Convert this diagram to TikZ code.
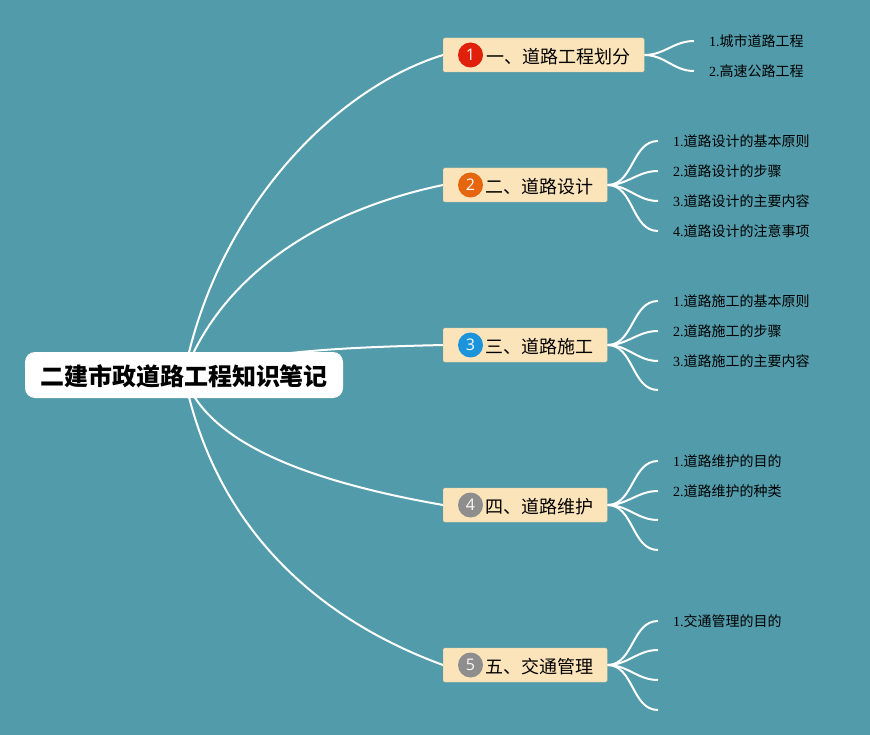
\documentclass[tikz,border=0pt]{standalone}
\usepackage{fontspec}
\setmainfont{Liberation Serif}
\setsansfont{Open Sans}
\newfontfamily\cjk{Noto Sans CJK SC}
\usetikzlibrary{backgrounds}
\definecolor{sea}{HTML}{529BAA}
\definecolor{sand}{HTML}{FBE3BA}
\definecolor{sandline}{HTML}{E8CFA0}
\definecolor{badgered}{HTML}{E0200B}
\definecolor{badgeorange}{HTML}{E6650F}
\definecolor{badgeblue}{HTML}{1C94DC}
\definecolor{badgegrey}{HTML}{8E8E8E}
\begin{document}
\begin{tikzpicture}[x=1pt,y=-1pt,
    root/.style={fill=white,rounded corners=10pt,minimum width=318pt,minimum height=46pt,inner sep=0pt,text height=21.5pt,text depth=1.5pt,font=\cjk\bfseries\fontsize{24}{28}\selectfont},
    branch/.style={anchor=west,fill=sand,draw=sandline,rounded corners=1.5pt,minimum height=34pt,inner xsep=14pt,inner ysep=0pt,text height=17pt,text depth=0.6pt,align=right,font=\cjk\fontsize{18}{22}\selectfont},
    badge/.style={circle,minimum size=25pt,inner sep=0pt,text=white!85!sand,font=\sffamily\fontsize{16}{18}\selectfont},
    leaf/.style={anchor=west,inner xsep=15pt,inner ysep=0pt,font=\cjk\fontsize{14}{17}\selectfont},
    wire/.style={draw=white,line width=2pt},
    twig/.style={draw=white,line width=2pt,out=0,in=180}]
          \node[root](root) at (184,375) {二建市政道路工程知识笔记};
          \node[branch,text width=173pt](b1) at (443,55)  {一、道路工程划分};
          \node[branch,text width=136pt](b2) at (443,185) {二、道路设计};
          \node[branch,text width=136pt](b3) at (443,345) {三、道路施工};
          \node[branch,text width=136pt](b4) at (443,505) {四、道路维护};
          \node[branch,text width=136pt](b5) at (443,665) {五、交通管理};
          \node[badge,fill=badgered]   (n1) at (470.5,55)  {1};
          \node[badge,fill=badgeorange](n2) at (470.5,185) {2};
          \node[badge,fill=badgeblue]  (n3) at (470.5,345) {3};
          \node[badge,fill=badgegrey]  (n4) at (470.5,505) {4};
          \node[badge,fill=badgegrey]  (n5) at (470.5,665) {5};
          \node[leaf](l11) at (694,41)  {{\rmfamily 1.}城市道路工程};
          \node[leaf](l12) at (694,71)  {{\rmfamily 2.}高速公路工程};
          \node[leaf](l21) at (658,141) {{\rmfamily 1.}道路设计的基本原则};
          \node[leaf](l22) at (658,171) {{\rmfamily 2.}道路设计的步骤};
          \node[leaf](l23) at (658,201) {{\rmfamily 3.}道路设计的主要内容};
          \node[leaf](l24) at (658,231) {{\rmfamily 4.}道路设计的注意事项};
          \node[leaf](l31) at (658,301) {{\rmfamily 1.}道路施工的基本原则};
          \node[leaf](l32) at (658,331) {{\rmfamily 2.}道路施工的步骤};
          \node[leaf](l33) at (658,361) {{\rmfamily 3.}道路施工的主要内容};
          \coordinate (l34) at (658,390);
          \node[leaf](l41) at (658,461) {{\rmfamily 1.}道路维护的目的};
          \node[leaf](l42) at (658,491) {{\rmfamily 2.}道路维护的种类};
          \coordinate (l43) at (658,520);
          \coordinate (l44) at (658,550);
          \node[leaf](l51) at (658,621) {{\rmfamily 1.}交通管理的目的};
          \coordinate (l52) at (658,650);
          \coordinate (l53) at (658,680);
          \coordinate (l54) at (658,710);
          \begin{pgfonlayer}{background}
          \fill[sea] (0,0) rectangle (870,735);
          \draw[wire] (root.center) .. controls (215,215) and (330,90) .. (b1.west);
          \draw[wire] (root.center) .. controls (215,290) and (300,215) .. (b2.west);
          \draw[wire] (root.center) .. controls (250,350) and (360,347) .. (b3.west);
          \draw[wire] (root.center) .. controls (205,440) and (300,480) .. (b4.west);
          \draw[wire] (root.center) .. controls (215,530) and (320,620) .. (b5.west);
          \path[twig]
            (b1.east) edge (l11.west)
            (b1.east) edge (l12.west)
            (b2.east) edge (l21.west)
            (b2.east) edge (l22.west)
            (b2.east) edge (l23.west)
            (b2.east) edge (l24.west)
            (b3.east) edge (l31.west)
            (b3.east) edge (l32.west)
            (b3.east) edge (l33.west)
            (b3.east) edge (l34)
            (b4.east) edge (l41.west)
            (b4.east) edge (l42.west)
            (b4.east) edge (l43)
            (b4.east) edge (l44)
            (b5.east) edge (l51.west)
            (b5.east) edge (l52)
            (b5.east) edge (l53)
            (b5.east) edge (l54)
            ;
          \end{pgfonlayer}
        \end{tikzpicture}
\end{document}
